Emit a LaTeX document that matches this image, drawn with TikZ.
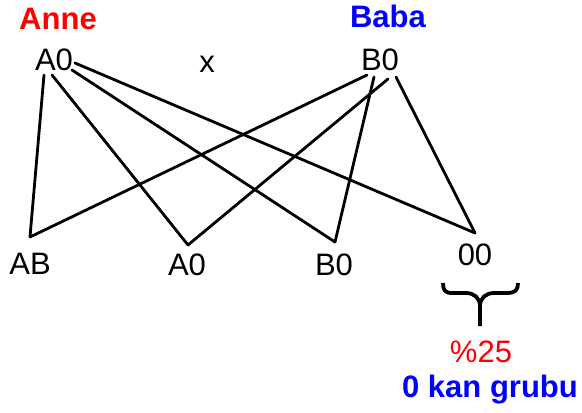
\documentclass[tikz,border=0pt]{standalone}
\usepackage{fontspec}
\setmainfont{Liberation Sans}
\usetikzlibrary{calc}
\definecolor{anneRed}{RGB}{255,0,0}
\definecolor{babaBlue}{RGB}{0,0,255}
\begin{document}
\begin{tikzpicture}[x=1pt,y=-1pt,
  lbl/.style={inner sep=0pt,anchor=base,font=\fontsize{31}{33}\selectfont},
  head/.style={lbl,font=\fontsize{31}{33}\selectfont\bfseries},
  link/.style={line width=2.8pt,line cap=round,line join=round},
  bracestroke/.style={line width=3.8pt,line cap=butt,line join=round}]
\useasboundingbox (0,0) rectangle (582,413);

% parents
\node[head,text=anneRed]  (anne) at (58,29)  {Anne};
\node[head,text=babaBlue] (baba) at (388,27) {Baba};
\node[lbl] (pa) at (54,70)  {A0};
\node[lbl] (cross) at (207,72) {x};
\node[lbl] (pb) at (380,70) {B0};

% offspring
\node[lbl] (cAB) at (30,274)  {AB};
\node[lbl] (cA0) at (187,275) {A0};
\node[lbl] (cB0) at (334,275) {B0};
\node[lbl] (c00) at (475,265) {00};

% meeting points above the offspring
\coordinate (vAB) at (30,237);
\coordinate (vA0) at (188,245);
\coordinate (vB0) at (335,242);
\coordinate (v00) at (475,233);

% lines from the mother
\draw[link] ($(pa.base)+(-10,5)$) -- (vAB);
\draw[link] ($(pa.base)+(-2,5)$)  -- (vA0);
\draw[link] ($(pa.base)+(18,0)$)  -- (vB0);
\draw[link] ($(pa.base)+(21,-7)$) -- (v00);

% lines from the father
\draw[link] ($(pb.base)+(-13,5)$) -- (vAB);
\draw[link] ($(pb.base)+(8,9)$)   -- (vA0);
\draw[link] ($(pb.base)+(-6,7)$)  -- (vB0);
\draw[link] ($(pb.base)+(16,7)$)  -- (v00);

% brace under 00
\draw[bracestroke] (443,283) .. controls (443,290) and (445,293) .. (452,293)
  -- (466,293) .. controls (474,293) and (480,298) .. (480,306) -- (480,326);
\draw[bracestroke] (518,283) .. controls (518,290) and (515,293) .. (508,293)
  -- (494,293) .. controls (486,293) and (480,298) .. (480,306);

% result
\node[lbl,text=anneRed] (pct) at (481,362) {\%25};
\node[head,text=babaBlue] (grp) at (490,397) {0 kan grubu};
\end{tikzpicture}
\end{document}
